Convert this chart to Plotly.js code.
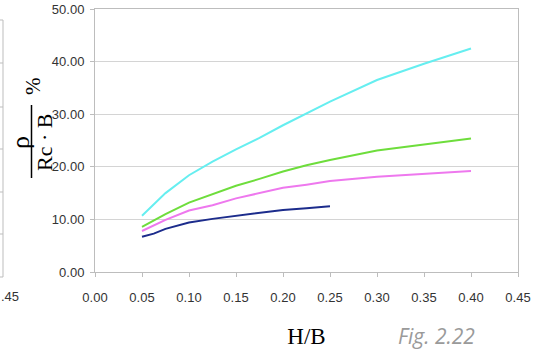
<!DOCTYPE html>
<html>
<head>
<meta charset="utf-8">
<script src="https://cdn.plot.ly/plotly-3.0.1.min.js"></script>
<style>html,body{margin:0;padding:0;background:#fff;}#chart{width:544px;height:353px;}</style>
</head>
<body>
<div id="chart"></div>
<script>
// ---- data ----
const hbLong = [0.05, 0.075, 0.10, 0.125, 0.15, 0.175, 0.20, 0.225, 0.25, 0.30, 0.35, 0.40];
const hbShort = [0.05, 0.0625, 0.075, 0.10, 0.125, 0.15, 0.175, 0.20, 0.225, 0.25];
const cyanVals    = [10.7, 15.0, 18.4, 21.0, 23.3, 25.5, 27.9, 30.2, 32.4, 36.5, 39.6, 42.5];
const greenVals   = [8.6, 11.0, 13.2, 14.8, 16.4, 17.7, 19.1, 20.3, 21.3, 23.1, 24.3, 25.4];
const magentaVals = [7.8, 9.9, 11.7, 12.7, 14.0, 15.0, 16.0, 16.6, 17.3, 18.1, 18.7, 19.2];
const navyVals    = [6.7, 7.3, 8.2, 9.4, 10.1, 10.7, 11.3, 11.8, 12.1, 12.5];
const xTicks = [0, 0.05, 0.10, 0.15, 0.20, 0.25, 0.30, 0.35, 0.40, 0.45];
const yTicks = [0, 10, 20, 30, 40, 50];

// ---- layout geometry (pixels) ----
const W = 544, H = 353, ML = 95, MR = 26, MT = 9, MB = 81;
const PW = W - ML - MR, PH = H - MT - MB;
const px = v => (v - ML) / PW;          // pixel x -> paper x
const py = v => (H - MB - v) / PH;      // pixel y -> paper y

const traces = [
  {x: hbLong, y: cyanVals, color: '#66EEF0'},
  {x: hbLong, y: greenVals, color: '#6EDD3C'},
  {x: hbLong, y: magentaVals, color: '#EE78EE'},
  {x: hbShort, y: navyVals, color: '#1C2C8C'}
].map(t => ({x: t.x, y: t.y, type: 'scatter', mode: 'lines',
  line: {color: t.color, width: 2}, hoverinfo: 'skip', showlegend: false}));

const grey = '#BDBDBD';
const shapes = [
  // fraction bar of the y-axis title
  {type: 'line', xref: 'paper', yref: 'paper', x0: px(31.5), x1: px(31.5), y0: py(105), y1: py(178),
   line: {color: '#000', width: 1.5}},
  // remnant of the neighbouring chart on the left edge
  {type: 'line', xref: 'paper', yref: 'paper', x0: px(3), x1: px(3), y0: py(20), y1: py(277),
   line: {color: grey, width: 1}}
];
[20, 63, 107, 149, 192, 234, 277].forEach(v => shapes.push(
  {type: 'line', xref: 'paper', yref: 'paper', x0: px(0), x1: px(3), y0: py(v), y1: py(v),
   line: {color: grey, width: 1}}));

const serif = 'Liberation Serif, Times New Roman, serif';
const annotations = [
  {text: 'ρ', xref: 'paper', yref: 'paper', x: px(20), y: py(143), textangle: -90,
   showarrow: false, xanchor: 'center', yanchor: 'middle', font: {family: serif, size: 26, color: '#000'}},
  {text: 'Rc · B', xref: 'paper', yref: 'paper', x: px(44), y: py(143), textangle: -90,
   showarrow: false, xanchor: 'center', yanchor: 'middle', font: {family: serif, size: 22, color: '#000'}},
  {text: '%', xref: 'paper', yref: 'paper', x: px(33), y: py(86), textangle: -90,
   showarrow: false, xanchor: 'center', yanchor: 'middle', font: {family: serif, size: 21, color: '#000'}},
  {text: '.45', xref: 'paper', yref: 'paper', x: px(-1), y: py(296),
   showarrow: false, xanchor: 'left', yanchor: 'middle', font: {family: 'Liberation Sans, Arial, sans-serif', size: 13, color: '#333'}},
  {text: '<i>Fig. 2.22</i>', xref: 'paper', yref: 'paper', x: px(396), y: py(352),
   showarrow: false, xanchor: 'left', yanchor: 'bottom', font: {family: 'Open Sans, sans-serif', size: 21, color: '#9A9A9A'}}
];

const tickFont = {family: 'Liberation Sans, Arial, sans-serif', size: 13, color: '#333'};
const layout = {
  width: W, height: H,
  margin: {l: ML, r: MR, t: MT, b: MB, pad: 0},
  paper_bgcolor: '#fff', plot_bgcolor: '#fff',
  showlegend: false,
  xaxis: {
    range: [0, 0.45], tickvals: xTicks, tickformat: '.2f', tickfont: tickFont,
    showgrid: false, zeroline: false, showline: true, linecolor: grey, linewidth: 1, mirror: true,
    ticks: 'outside', ticklen: 4, tickcolor: grey, ticklabelstandoff: 9,
    title: {text: 'H/B', font: {family: serif, size: 23, color: '#000'}, standoff: 24},
    fixedrange: true
  },
  yaxis: {
    range: [0, 50], tickvals: yTicks, tickformat: '.2f', tickfont: tickFont,
    showgrid: true, gridcolor: '#D4D4D4', gridwidth: 1, zeroline: false,
    showline: true, linecolor: grey, linewidth: 1, mirror: true,
    ticks: 'outside', ticklen: 4, tickcolor: grey, ticklabelstandoff: 3,
    title: {text: ''}, fixedrange: true
  },
  shapes: shapes,
  annotations: annotations
};

Plotly.newPlot('chart', traces, layout, {staticPlot: true, displayModeBar: false});
</script>
</body>
</html>
